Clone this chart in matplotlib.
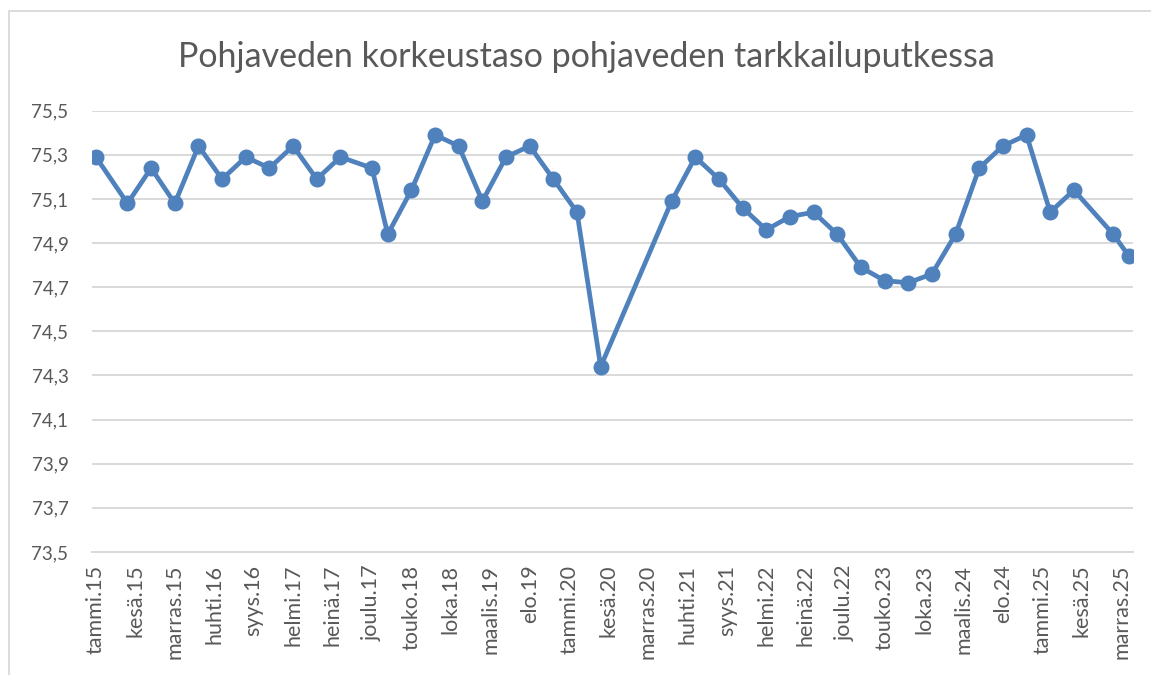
import numpy as np
import pandas as pd
import matplotlib
matplotlib.use("Agg")
import matplotlib.pyplot as plt
from matplotlib.patches import Rectangle

# measurement dates (year-month) and groundwater level
dates = ["2015-01", "2015-05", "2015-08", "2015-11", "2016-02", "2016-05", "2016-08",
         "2016-11", "2017-02", "2017-05", "2017-08", "2017-12", "2018-02", "2018-05",
         "2018-08", "2018-11", "2019-02", "2019-05", "2019-08", "2019-11", "2020-02",
         "2020-05", "2021-02", "2021-05", "2021-08", "2021-11", "2022-02", "2022-05",
         "2022-08", "2022-11", "2023-02", "2023-05", "2023-08", "2023-11", "2024-02",
         "2024-05", "2024-08", "2024-11", "2025-02", "2025-05", "2025-10", "2025-12"]
levels = [75.29, 75.08, 75.24, 75.08, 75.34, 75.19, 75.29, 75.24, 75.34, 75.19, 75.29,
          75.24, 74.94, 75.14, 75.39, 75.34, 75.09, 75.29, 75.34, 75.19, 75.04, 74.34,
          75.09, 75.29, 75.19, 75.06, 74.96, 75.02, 75.04, 74.94, 74.79, 74.73, 74.72,
          74.76, 74.94, 75.24, 75.34, 75.39, 75.04, 75.14, 74.94, 74.84]

tick_labels = ["tammi.15", "kesä.15", "marras.15", "huhti.16", "syys.16", "helmi.17",
               "heinä.17", "joulu.17", "touko.18", "loka.18", "maalis.19", "elo.19",
               "tammi.20", "kesä.20", "marras.20", "huhti.21", "syys.21", "helmi.22",
               "heinä.22", "joulu.22", "touko.23", "loka.23", "maalis.24", "elo.24",
               "tammi.25", "kesä.25", "marras.25"]
y_ticks = [73.5, 73.7, 73.9, 74.1, 74.3, 74.5, 74.7, 74.9, 75.1, 75.3, 75.5]

# month index from Jan 2015
p = pd.PeriodIndex(dates, freq="M")
x = np.array([(d.year - 2015) * 12 + d.month - 1 for d in p])
tick_pos = np.arange(len(tick_labels)) * 5

plt.rcParams["font.family"] = ["Lato", "DejaVu Sans"]
txt = "#595959"
blue = "#4F81BD"
grid = "#D9D9D9"

fig = plt.figure(figsize=(11.51, 6.75), dpi=100)
fig.patches.append(Rectangle((9/1151, -0.1), 1.2, 1 - 11/675 + 0.1,
                             transform=fig.transFigure, fill=False,
                             edgecolor="#D9D9D9", linewidth=1.3))
ax = fig.add_axes([92/1151, 1 - 552/675, (1133 - 92)/1151, (552 - 110.7)/675])

ax.plot(x, levels, color=blue, linewidth=3.4, marker="o", markersize=10.5,
        solid_capstyle="round", solid_joinstyle="round", zorder=3)

ax.set_xlim(-0.5, 131.5)
ax.set_ylim(73.5, 75.5)
ax.set_yticks(y_ticks)
ax.set_yticklabels([f"{v:.1f}".replace(".", ",") for v in y_ticks])
ax.set_xticks(tick_pos)
ax.set_xticklabels(tick_labels, rotation=90)
ax.tick_params(axis="both", length=0, colors=txt)
ax.tick_params(axis="y", pad=17, labelsize=13.5)
ax.tick_params(axis="x", pad=9, labelsize=15.5)
ax.yaxis.grid(True, color=grid, linewidth=1.4)
ax.set_axisbelow(True)
for s in ["top", "right", "left"]:
    ax.spines[s].set_visible(False)
ax.spines["bottom"].set_color(grid)
ax.spines["bottom"].set_linewidth(1.4)

fig.text(586/1151, 1 - 57/675, "Pohjaveden korkeustaso pohjaveden tarkkailuputkessa",
         ha="center", va="center", fontsize=24.5, color=txt)

fig.savefig("out.png", dpi=100)
